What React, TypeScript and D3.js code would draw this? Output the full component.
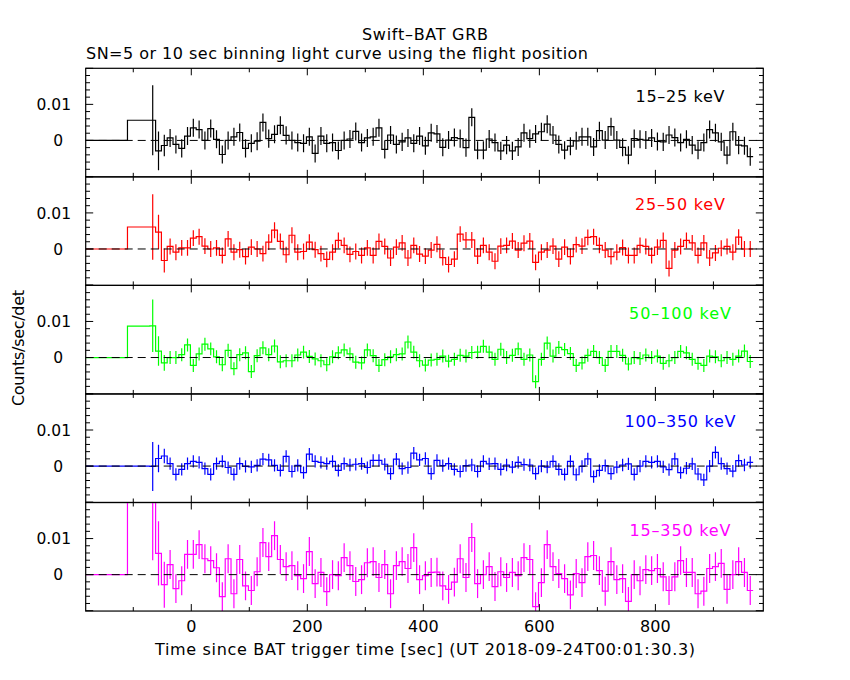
import * as d3 from "d3";

// Frame of the five stacked panels (pixels)
const W = 850;
const H = 680;
const PLOT_LEFT = 85.7;
const PLOT_RIGHT = 763.3;
const PLOT_TOP = 68.3;
const PANEL_H = 108.55;

const T_DOMAIN: [number, number] = [-182, 986];
const Y_DOMAIN: [number, number] = [-0.0101, 0.02];

// time grid: two long pre-trigger bins, then 10 s bins
const PRE_STARTS = [-190, -110];
const BIN_START = -71.5;
const BIN_WIDTH = 10;

const BANDS = ["15–25 keV", "25–50 keV", "50–100 keV", "100–350 keV", "15–350 keV"];
const COLORS = ["#000000", "#ff0000", "#00ff00", "#0000ff", "#ff00ff"];

// all rates below in units of 1e-3 counts/sec/det
const PRE_RATES = [
  [0, 5.6],
  [0, 6.1],
  [0, 8.7],
  [0, 0],
  [0, 26],
];

const RATE_15_25 = [
  5.6, -2.9, -1.4, 0.7, -1.1, -2.2, 1.2, 3.5, 3.0, 0.0, 3.3, 0.3, -3.9, 0.0, 1.0, 2.2,
  -2.2, -0.8, -0.2, 5.0, 0.5, 1.7, 4.2, 1.4, 0.0, -0.6, -0.8, 1.0, -3.6, 1.2, -0.8, -0.6,
  -2.8, 0.0, 0.4, 2.5, -0.6, 0.7, 1.0, 3.5, -2.5, 1.5, -1.1, -0.4, 0.7, -0.8, 1.2, -1.5,
  2.1, 1.8, -1.9, 0.1, 0.8, 0.5, -2.0, 6.4, -2.7, -2.7, 0.4, -0.6, -2.9, -1.3, -2.9, -1.8,
  2.1, 0.5, 1.8, 2.4, 4.5, 1.5, -1.1, -2.7, -1.6, -0.1, 1.0, 1.0, -1.8, 2.7, 0.1, 3.8,
  0.1, -1.9, -4.1, 0.5, 0.3, 0.1, 0.7, -0.3, -0.4, 1.5, 0.8, -0.6, 0.3, -1.3, -2.7, -0.6,
  3.0, 2.1, -0.4, -4.1, 2.4, -1.3, -1.5, -4.5,
];

const RATE_25_50 = [
  6.1, 4.7, -3.2, 0.7, -0.9, 0.3, 0.3, 3.0, 3.4, 0.8, 0.0, 0.3, -1.8, 2.8, -0.9, -0.2,
  -2.1, 0.5, 0.0, -1.3, 1.9, 5.2, 2.1, -1.6, 3.8, -0.9, -0.7, 1.9, -0.2, -1.3, -2.9, -0.9,
  2.4, 1.0, -1.5, -0.7, -1.8, 0.3, -1.8, 2.1, 0.7, -2.5, 0.5, 1.7, -2.5, 1.0, -1.4, -2.0,
  -0.3, 1.3, -2.4, -4.3, -2.8, 4.1, 2.5, 2.5, -2.0, 1.0, -0.9, -3.4, 0.8, 1.0, 2.2, -0.3,
  1.6, 2.2, -3.7, -0.9, -0.3, 0.8, -2.8, 0.5, -2.1, 1.2, 0.8, 3.2, 3.4, 1.0, -0.3, -2.1,
  -0.9, 0.4, -1.8, -1.8, 1.0, 0.7, -1.8, 0.5, 2.4, -5.4, -0.3, 0.7, 2.4, 1.7, -1.8, 1.7,
  -2.5, -1.1, 0.2, 0.7, -0.9, 3.3, 0.0, 0.0,
];

const RATE_50_100 = [
  8.8, 1.8, -1.5, 0.0, 0.0, 0.8, 3.5, -2.2, 1.0, 3.7, 2.4, 0.2, -2.0, 2.0, -3.1, 0.8,
  1.3, -3.9, 0.5, 2.7, 0.8, 3.2, -1.2, -0.9, -0.9, 0.7, 1.5, 0.3, -0.4, -0.9, -2.0, 0.2,
  1.3, 2.1, 1.0, -1.3, -1.5, 2.1, 0.5, -2.2, -0.6, 0.2, 0.8, 1.0, 4.3, 1.5, -0.9, -2.1,
  -0.7, -0.5, 0.4, -1.0, -0.5, 0.6, 0.4, 1.4, 1.5, 3.1, 1.5, -0.5, 2.3, 0.0, 0.6, 2.4,
  -0.5, 0.7, -6.7, -0.5, 4.0, 0.4, 2.8, 2.2, 1.1, -2.2, -1.5, 0.6, 1.7, 0.0, -2.2, 1.7,
  1.7, 0.6, -1.8, 0.0, -0.3, 0.7, 0.0, 0.4, -1.6, -0.9, 0.0, 1.7, 1.3, -0.5, -1.6, -2.2,
  0.4, 0.2, -0.9, 0.0, -0.5, 0.4, 1.8, -1.1,
];

const RATE_100_350 = [
  -0.1, 2.1, 2.8, 0.7, -2.3, -0.9, 0.7, 1.3, 1.0, -0.7, -2.3, 0.7, 1.3, -0.4, -2.3, 0.7,
  -0.1, -0.2, 0.2, 1.9, 1.7, 0.2, -1.2, 2.7, -1.5, 0.2, -1.8, 3.3, 1.3, 1.0, 0.7, 1.3,
  -1.2, 0.7, 0.3, 0.5, 0.7, -0.4, 1.6, 1.6, 0.5, -2.1, 1.9, -0.7, -0.4, 3.6, 1.7, 2.1,
  -2.1, 1.6, 0.1, 0.7, -0.9, -1.5, 0.1, 0.3, -1.5, 1.3, 0.6, 0.7, -0.9, 0.3, -0.3, 1.0,
  0.4, 0.3, -2.1, 0.0, -0.3, 1.3, -0.9, -2.3, 1.3, -2.4, -0.1, 2.0, -2.9, -1.2, 0.1, -2.1,
  -0.3, 0.3, 0.6, -2.3, 0.0, 1.3, 1.0, 1.3, -0.2, -1.0, 2.0, -1.8, -0.6, 0.6, -2.2, -3.8,
  0.0, 3.8, 0.7, -0.7, -1.4, 1.5, 0.3, 1.0,
];

const RATE_15_350 = [
  26, 5.9, -2.8, 2.8, -3.9, -1.7, 5.6, 5.6, 8.3, 4.4, 3.9, 1.9, -6.1, 4.4, -5.3, 4.2,
  -3.1, -4.4, 0.8, 8.9, 5.0, 10.8, 4.2, 2.2, 2.5, -0.3, -1.1, 6.4, -2.5, 0.6, -4.7, 0.0,
  -0.3, 4.7, 2.5, -1.9, -1.4, 3.3, 3.6, -0.8, 2.8, -5.3, 2.5, 3.6, 1.7, 7.5, -1.4, -0.3,
  0.6, 0.7, -3.1, -4.1, -2.1, 4.4, -0.8, 10.3, -2.5, 0.0, 2.2, -3.3, 0.8, -0.8, 0.6, -0.3,
  4.7, 4.2, -8.9, -2.2, 8.3, 2.2, 0.3, -1.1, -5.6, 0.3, -2.2, 5.0, 5.3, 1.1, -4.6, 3.6,
  -1.4, -1.1, -7.4, 0.0, -1.7, 1.4, 1.1, 1.7, -0.6, -4.4, -0.6, 3.9, 0.6, 0.6, -5.3, -4.6,
  1.7, 2.2, 3.1, -4.1, 0.0, 3.6, 0.6, -4.4,
];

const RATES = [RATE_15_25, RATE_25_50, RATE_50_100, RATE_100_350, RATE_15_350];

// errors: first few bins are larger, the rest sit near a typical size
const ERR_HEAD = [
  [9.7, 5.4, 3.0],
  [9.1, 4.8, 3.3],
  [7.3, 4.1, 2.2],
  [6.8, 3.8, 2.0],
  [22, 8.9, 6.4],
];
const ERR_TYPICAL = [2.5, 2.2, 1.8, 1.7, 4.0];

const X_TICKS = d3.range(-100, 901, 100);
const X_LABELS = [0, 200, 400, 600, 800];
const Y_TICKS = d3.range(-10, 21, 2); // 1e-3 units
const Y_LABELS = [10, 0];

const FONT = "'DejaVu Sans', sans-serif";
// widths of the text runs in the original (the plotting font is wider)
const BAND_WIDTHS = [89, 90, 102, 111, 101];

const x = d3.scaleLinear().domain(T_DOMAIN).range([PLOT_LEFT, PLOT_RIGHT]);

function Panel({ i }: { i: number }) {
  const top = PLOT_TOP + i * PANEL_H;
  const bottom = top + PANEL_H;
  const y = d3.scaleLinear().domain(Y_DOMAIN).range([bottom, top]);
  const rates = RATES[i];
  const color = COLORS[i];

  const pts: [number, number][] = [
    [PRE_STARTS[0], PRE_RATES[i][0]],
    [PRE_STARTS[1], PRE_RATES[i][1]],
    ...rates.map((v, k) => [BIN_START + k * BIN_WIDTH, v] as [number, number]),
    [BIN_START + rates.length * BIN_WIDTH, rates[rates.length - 1]],
  ];
  const step = d3
    .line<[number, number]>()
    .x((d) => x(d[0]))
    .y((d) => y(d[1] / 1000))
    .curve(d3.curveStepAfter)(pts);

  const errOf = (k: number) => ERR_HEAD[i][k] ?? ERR_TYPICAL[i];
  const clipId = `clip-${i}`;

  return (
    <g>
      <clipPath id={clipId}>
        <rect x={PLOT_LEFT} y={top} width={PLOT_RIGHT - PLOT_LEFT} height={PANEL_H} />
      </clipPath>
      <g clipPath={`url(#${clipId})`}>
        <path d={step ?? ""} fill="none" stroke={color} strokeWidth={1.2} />
        {rates.map((v, k) => {
          const tc = BIN_START + (k + 0.5) * BIN_WIDTH;
          const e = errOf(k);
          return (
            <line
              key={k}
              x1={x(tc)}
              x2={x(tc)}
              y1={y((v - e) / 1000)}
              y2={y((v + e) / 1000)}
              stroke={color}
              strokeWidth={1.2}
            />
          );
        })}
        <line
          x1={PLOT_LEFT}
          x2={PLOT_RIGHT}
          y1={y(0)}
          y2={y(0)}
          stroke="#000"
          strokeWidth={1}
          strokeDasharray="8 5"
        />
      </g>

      {/* frame and ticks */}
      <rect
        x={PLOT_LEFT}
        y={top}
        width={PLOT_RIGHT - PLOT_LEFT}
        height={PANEL_H}
        fill="none"
        stroke="#000"
        strokeWidth={1.2}
      />
      {X_TICKS.map((t) => {
        const len = t % 200 === 0 ? 7 : 4;
        return (
          <g key={t} stroke="#000" strokeWidth={1}>
            <line x1={x(t)} x2={x(t)} y1={top} y2={top + len} />
            <line x1={x(t)} x2={x(t)} y1={bottom} y2={bottom - len} />
          </g>
        );
      })}
      {Y_TICKS.map((v) => {
        const len = v % 10 === 0 ? 7.5 : 4.3;
        const yy = y(v / 1000);
        return (
          <g key={v} stroke="#000" strokeWidth={1}>
            <line x1={PLOT_LEFT} x2={PLOT_LEFT + len} y1={yy} y2={yy} />
            <line x1={PLOT_RIGHT} x2={PLOT_RIGHT - len} y1={yy} y2={yy} />
          </g>
        );
      })}
      {Y_LABELS.map((v) => (
        <text
          key={v}
          x={v === 0 ? 63 : 71}
          y={y(v / 1000) + 5.8}
          textAnchor="end"
          fontFamily={FONT}
          fontSize={15.5}
          fill="#000"
        >
          {v === 0 ? "0" : (v / 1000).toString()}
        </text>
      ))}
      <text
        x={680}
        y={top + 33.5}
        textAnchor="middle"
        fontFamily={FONT}
        fontSize={16}
        fill={color}
        textLength={BAND_WIDTHS[i]}
      >
        {BANDS[i]}
      </text>
    </g>
  );
}

export default function App() {
  const bottom = PLOT_TOP + RATES.length * PANEL_H;
  return (
    <svg
      width={W}
      height={H}
      style={{ position: "absolute", left: 0, top: 0, background: "#fff" }}
    >
      <rect width={W} height={H} fill="#fff" />
      <text x={425} y={40} textAnchor="middle" fontFamily={FONT} fontSize={16} textLength={126}>
        Swift–BAT GRB
      </text>
      <text x={86} y={58.5} fontFamily={FONT} fontSize={16} textLength={502}>
        SN=5 or 10 sec binning light curve using the flight position
      </text>
      {RATES.map((_, i) => (
        <Panel key={i} i={i} />
      ))}
      {X_LABELS.map((t) => (
        <text
          key={t}
          x={x(t)}
          y={bottom + 21}
          textAnchor="middle"
          fontFamily={FONT}
          fontSize={16}
        >
          {t}
        </text>
      ))}
      <text
        x={425}
        y={655}
        textAnchor="middle"
        fontFamily={FONT}
        fontSize={16}
        textLength={540}
      >
        Time since BAT trigger time [sec] (UT 2018-09-24T00:01:30.3)
      </text>
      <text
        transform={`translate(24,348) rotate(-90)`}
        textAnchor="middle"
        fontFamily={FONT}
        fontSize={16}
        textLength={116}
      >
        Counts/sec/det
      </text>
    </svg>
  );
}
